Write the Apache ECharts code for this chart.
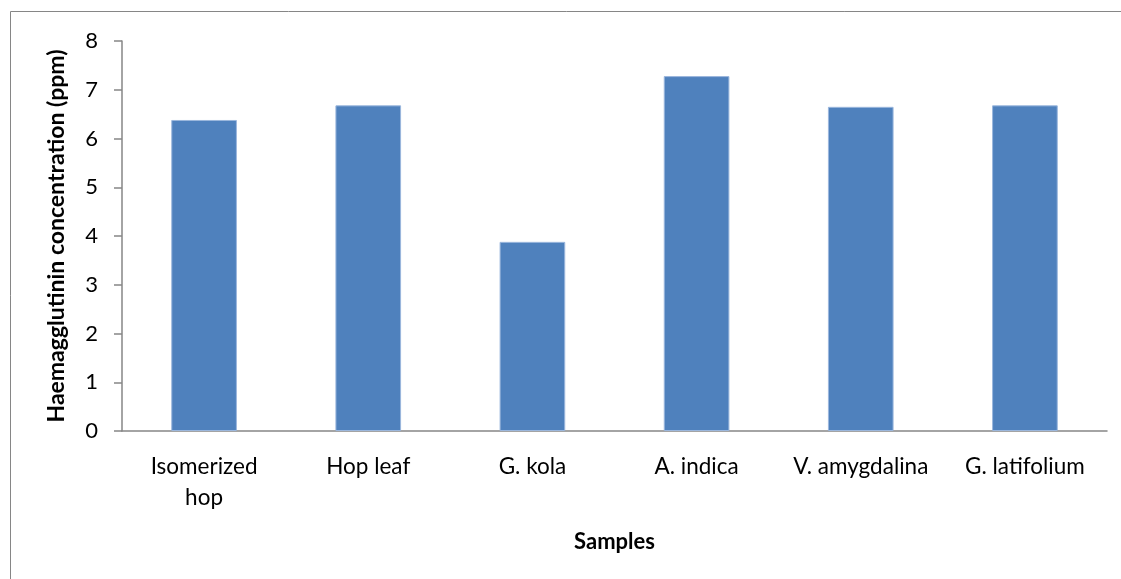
<!DOCTYPE html>
<html><head><meta charset="utf-8">
<script src="https://cdn.jsdelivr.net/npm/echarts@6/dist/echarts.min.js"></script>
<style>html,body{margin:0;padding:0;background:#fff}#c{width:1121px;height:579px}</style>
</head><body><div id="c"></div>
<script>
const categories = ['Isomerized\nhop', 'Hop leaf', 'G. kola', 'A. indica', 'V. amygdalina', 'G. latifolium'];
const values = [6.38, 6.68, 3.88, 7.28, 6.65, 6.68];
const yTicks = [0, 1, 2, 3, 4, 5, 6, 7, 8];
const FONT = 'Lato';
const chart = echarts.init(document.getElementById('c'));
chart.setOption({
  animation: false,
  backgroundColor: '#fff',
  graphic: [{type: 'rect', shape: {x: 10.5, y: 11.5, width: 1200, height: 700}, style: {fill: 'none', stroke: '#868686', lineWidth: 1}}],
  grid: {left: 122, right: 14, top: 41, bottom: 148},
  xAxis: {
    type: 'category', data: categories,
    name: 'Samples', nameLocation: 'middle', nameGap: 100,
    nameTextStyle: {fontFamily: FONT, fontWeight: 'bold', fontSize: 22, color: '#000'},
    axisLine: {lineStyle: {color: '#868686', width: 1.5}},
    axisTick: {show: false},
    axisLabel: {fontFamily: FONT, fontSize: 22.5, color: '#000', margin: 20, lineHeight: 31, interval: 0}
  },
  yAxis: {
    type: 'value', min: yTicks[0], max: yTicks[yTicks.length - 1], interval: 1,
    name: 'Haemagglutinin concentration (ppm)', nameLocation: 'middle', nameGap: 54,
    nameTextStyle: {fontFamily: FONT, fontWeight: 'bold', fontSize: 23, color: '#000'},
    axisLine: {show: true, lineStyle: {color: '#868686', width: 1.5}},
    axisTick: {show: true, length: 8, lineStyle: {color: '#868686', width: 1.5}},
    splitLine: {show: false},
    axisLabel: {fontFamily: FONT, fontSize: 22, color: '#000', margin: 24}
  },
  series: [{
    type: 'bar', data: values, barWidth: '40%',
    itemStyle: {color: '#4F81BD', borderColor: '#9BB7DD', borderWidth: 1}
  }]
});
</script></body></html>
